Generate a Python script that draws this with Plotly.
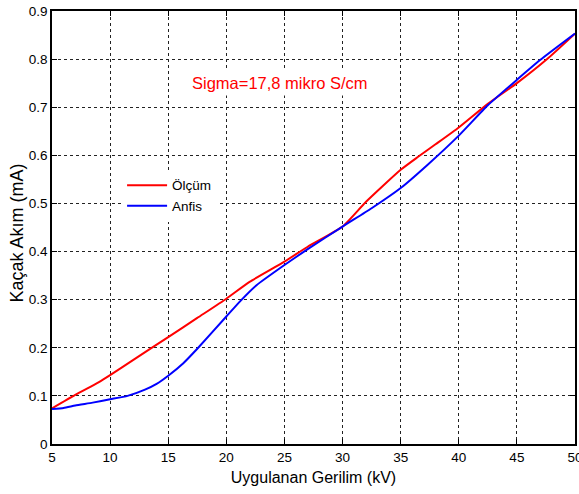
import plotly.graph_objects as go

# Ölçüm (measured)
olcum_x = [5, 7, 9, 10, 12, 15, 17.5, 20, 22, 25, 27, 30, 32, 35, 36.5, 38, 40, 42.5, 45, 47.5, 50]
olcum_y = [0.074, 0.102, 0.128, 0.143, 0.175, 0.222, 0.262, 0.302, 0.337, 0.379, 0.410, 0.452,
           0.503, 0.570, 0.597, 0.623, 0.658, 0.707, 0.750, 0.798, 0.853]

# Anfis (model)
anfis_x = [5, 6, 7, 8.5, 10, 11.5, 13, 14, 15, 16.3, 17.5, 20, 21.2, 22.6, 25, 27, 30, 32.5,
           35, 37.3, 40, 42.5, 45, 47, 50]
anfis_y = [0.073, 0.075, 0.080, 0.086, 0.093, 0.100, 0.113, 0.125, 0.142, 0.168, 0.198, 0.265,
           0.297, 0.330, 0.372, 0.405, 0.452, 0.490, 0.532, 0.580, 0.641, 0.704, 0.757, 0.798, 0.853]

x_ticks = [5, 10, 15, 20, 25, 30, 35, 40, 45, 50]
y_ticks = [0, 0.1, 0.2, 0.3, 0.4, 0.5, 0.6, 0.7, 0.8, 0.9]
y_tick_text = ["0", "0.1", "0.2", "0.3", "0.4", "0.5", "0.6", "0.7", "0.8", "0.9"]

FONT = "Liberation Sans, Arial, sans-serif"

fig = go.Figure()
fig.add_trace(go.Scatter(x=olcum_x, y=olcum_y, mode="lines", name="Ölçüm",
                         line=dict(color="#ff0000", width=2, shape="spline", smoothing=0.5)))
fig.add_trace(go.Scatter(x=anfis_x, y=anfis_y, mode="lines", name="Anfis",
                         line=dict(color="#0000ff", width=2, shape="spline", smoothing=0.5)))

axis_common = dict(
    showline=True, linecolor="black", linewidth=1.5, mirror="ticks",
    ticks="inside", ticklen=5, tickcolor="black", tickwidth=1,
    showgrid=True, gridcolor="#222222", gridwidth=1, griddash="3px,3px",
    zeroline=False, tickfont=dict(family=FONT, size=13.5, color="black"),
    ticklabeloverflow="allow", automargin=False,
)

fig.update_xaxes(range=[5, 50], tickvals=x_ticks, **axis_common,
                 title=dict(text="Uygulanan Gerilim (kV)", font=dict(family=FONT, size=16, color="black"),
                            standoff=8))
fig.update_yaxes(range=[0, 0.9], tickvals=y_ticks, ticktext=y_tick_text, **axis_common)

# y-axis title as rotated annotation for exact placement
fig.add_annotation(x=0, y=0.486, xref="paper", yref="paper", xanchor="center", yanchor="middle",
                   xshift=-35, textangle=-90, text="Kaçak Akım (mA)", showarrow=False,
                   font=dict(family=FONT, size=18, color="black"))

fig.add_annotation(x=24.6, y=0.75, xref="x", yref="y", text="Sigma=17,8 mikro S/cm",
                   showarrow=False, font=dict(family=FONT, size=16.5, color="#ff0000"),
                   bgcolor="white", borderpad=3)

fig.update_layout(
    width=579, height=494,
    margin=dict(l=52, r=4, t=11, b=50, autoexpand=False),
    paper_bgcolor="white", plot_bgcolor="white",
    font=dict(family=FONT, color="black"),
    legend=dict(x=0.134, y=0.633, xanchor="left", yanchor="top",
                bgcolor="white", borderwidth=0,
                font=dict(family=FONT, size=13.5, color="black"),
                tracegroupgap=0, itemwidth=40),
)

# remove the default 8px page margin so the figure fills the window exactly
fig.write_html("out.html", config={"displayModeBar": False},
               post_script="document.body.style.margin='0';")
